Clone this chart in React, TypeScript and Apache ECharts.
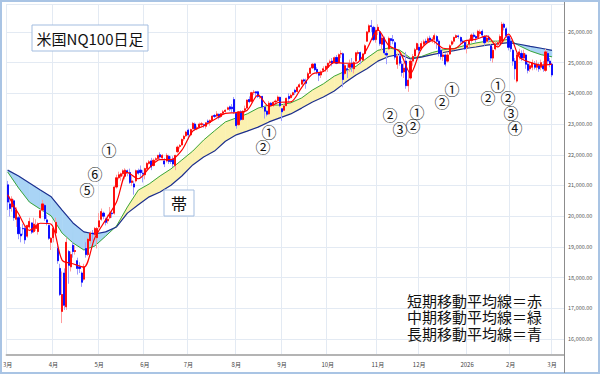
import React, { useEffect, useRef } from "react";
import * as echarts from "echarts";

// Trading days (category axis); the last five March 2026 days are empty slots.
const tradingDays: [string, number[]][] = [
  ["2025-03", [3, 4, 5, 6, 7, 10, 11, 12, 13, 14, 17, 18, 19, 20, 21, 24, 25, 26, 27, 28, 31]],
  ["2025-04", [1, 2, 3, 4, 7, 8, 9, 10, 11, 14, 15, 16, 17, 21, 22, 23, 24, 25, 28, 29, 30]],
  ["2025-05", [1, 2, 5, 6, 7, 8, 9, 12, 13, 14, 15, 16, 19, 20, 21, 22, 23, 27, 28, 29, 30]],
  ["2025-06", [2, 3, 4, 5, 6, 9, 10, 11, 12, 13, 16, 17, 18, 20, 23, 24, 25, 26, 27, 30]],
  ["2025-07", [1, 2, 3, 7, 8, 9, 10, 11, 14, 15, 16, 17, 18, 21, 22, 23, 24, 25, 28, 29, 30, 31]],
  ["2025-08", [1, 4, 5, 6, 7, 8, 11, 12, 13, 14, 15, 18, 19, 20, 21, 22, 25, 26, 27, 28, 29]],
  ["2025-09", [2, 3, 4, 5, 8, 9, 10, 11, 12, 15, 16, 17, 18, 19, 22, 23, 24, 25, 26, 29, 30]],
  ["2025-10", [1, 2, 3, 6, 7, 8, 9, 10, 13, 14, 15, 16, 17, 20, 21, 22, 23, 24, 27, 28, 29, 30, 31]],
  ["2025-11", [3, 4, 5, 6, 7, 10, 11, 12, 13, 14, 17, 18, 19, 20, 21, 24, 25, 26, 28]],
  ["2025-12", [1, 2, 3, 4, 5, 8, 9, 10, 11, 12, 15, 16, 17, 18, 19, 22, 23, 24, 26, 29, 30, 31]],
  ["2026-01", [2, 5, 6, 7, 8, 9, 12, 13, 14, 15, 16, 20, 21, 22, 23, 26, 27, 28, 29, 30]],
  ["2026-02", [2, 3, 4, 5, 6, 9, 10, 11, 12, 13, 17, 18, 19, 20, 23, 24, 25, 26, 27]],
  ["2026-03", [2, 3, 4, 5, 6, 9]],
];

// Daily candles: [open, close, low, high]
const ohlc: number[][] = [
  [21020, 20460, 20200, 21150], [20400, 20250, 19990, 20650], [20300, 20560, 20150, 20650], [20500, 19950, 19850, 20550],
  [19900, 20200, 19650, 20290], [19950, 19430, 19250, 20000], [19420, 19360, 19150, 19650], [19600, 19590, 19380, 19750],
  [19600, 19230, 19100, 19680], [19350, 19700, 19300, 19720], [19650, 19830, 19600, 19950], [19780, 19480, 19420, 19800],
  [19500, 19740, 19450, 19950], [19600, 19680, 19520, 19900], [19500, 19750, 19400, 19800], [19950, 20180, 19920, 20230],
  [20200, 20400, 20150, 20530], [20350, 19920, 19850, 20400], [19880, 19800, 19700, 20050], [19700, 19280, 19230, 19720],
  [19150, 19280, 18900, 19320],
  // April
  [19300, 19600, 19150, 19650], [19450, 19800, 19400, 19950], [18950, 18550, 18450, 19050], [18300, 17450, 17400, 18450],
  [16900, 17450, 16520, 18200], [18150, 17100, 16950, 18300], [17050, 19150, 16950, 19300], [18850, 18400, 17800, 18900],
  [18350, 18750, 18200, 18850], [19050, 18850, 18650, 19150], [18850, 18880, 18750, 19050], [18550, 18300, 18100, 18650],
  [18350, 18300, 18150, 18500], [18150, 17850, 17700, 18200], [17950, 18350, 17900, 18450], [18950, 18750, 18650, 19150],
  [18750, 19250, 18700, 19300], [19200, 19450, 19100, 19500], [19450, 19420, 19200, 19550], [19400, 19600, 19350, 19650],
  [19300, 19600, 18950, 19650],
  // May
  [19650, 19850, 19600, 20100], [19900, 20150, 19850, 20250], [20100, 20000, 19900, 20150], [19900, 19800, 19700, 19950],
  [19850, 19900, 19750, 20050], [19950, 20100, 19900, 20300], [20100, 20080, 19950, 20200], [20100, 20950, 20050, 21000],
  [20950, 21250, 20900, 21350], [21250, 21350, 21200, 21450], [21300, 21380, 21150, 21420], [21380, 21480, 21300, 21530],
  [21300, 21500, 21200, 21560], [21480, 21420, 21300, 21520], [21420, 21100, 21050, 21550], [21100, 21150, 20980, 21300],
  [21050, 20950, 20700, 21150], [21150, 21480, 21100, 21520], [21480, 21400, 21350, 21550], [21500, 21420, 21250, 21650],
  [21400, 21380, 21100, 21500],
  // June
  [21350, 21550, 21200, 21580], [21550, 21720, 21500, 21760], [21720, 21770, 21680, 21830], [21800, 21600, 21500, 21900],
  [21650, 21820, 21620, 21880], [21850, 21870, 21780, 21920], [21880, 21980, 21820, 22000], [22000, 21930, 21850, 22080],
  [21900, 21980, 21850, 22020], [21800, 21700, 21600, 21900], [21800, 21980, 21750, 22050], [21950, 21780, 21700, 22000],
  [21820, 21780, 21700, 21950], [21850, 21700, 21600, 21950], [21650, 21980, 21500, 22000], [22100, 22250, 22050, 22300],
  [22270, 22300, 22200, 22350], [22320, 22500, 22300, 22530], [22520, 22600, 22450, 22650], [22620, 22740, 22580, 22780],
  // July
  [22800, 22650, 22500, 22850], [22650, 22820, 22600, 22850], [22850, 23020, 22830, 23070], [23000, 22850, 22780, 23050],
  [22850, 22880, 22800, 22950], [22900, 23000, 22880, 23050], [22980, 23010, 22900, 23070], [22980, 22960, 22880, 23020],
  [22930, 23040, 22850, 23060], [23100, 23060, 23020, 23150], [23050, 23120, 22950, 23150], [23120, 23260, 23100, 23290],
  [23280, 23250, 23200, 23330], [23260, 23330, 23250, 23420], [23320, 23220, 23150, 23340], [23250, 23340, 23200, 23360],
  [23350, 23400, 23340, 23460], [23410, 23450, 23380, 23480], [23480, 23530, 23450, 23570], [23560, 23490, 23420, 23600],
  [23550, 23500, 23380, 23650], [23800, 23400, 23330, 23880],
  // August
  [23350, 22950, 22850, 23400], [22980, 23400, 22950, 23420], [23400, 23150, 23100, 23450], [23150, 23420, 23120, 23450],
  [23450, 23500, 23350, 23600], [23520, 23780, 23500, 23800], [23800, 23730, 23680, 23900], [23740, 24020, 23700, 24050],
  [24030, 24040, 23950, 24110], [24050, 24010, 23900, 24060], [24050, 23900, 23850, 24080], [23890, 23900, 23820, 23960],
  [23900, 23560, 23500, 23920], [23550, 23420, 23180, 23580], [23420, 23320, 23250, 23450], [23330, 23680, 23300, 23750],
  [23680, 23610, 23580, 23720], [23610, 23710, 23560, 23740], [23720, 23750, 23650, 23800], [23760, 23880, 23700, 23930],
  [23870, 23600, 23550, 23890],
  // September
  [23500, 23400, 23100, 23520], [23450, 23590, 23440, 23650], [23600, 23840, 23580, 23860], [23900, 23830, 23700, 24000],
  [23860, 23940, 23840, 23990], [23950, 24020, 23900, 24050], [24100, 24040, 23950, 24150], [24060, 24200, 24030, 24230],
  [24210, 24280, 24180, 24330], [24300, 24430, 24290, 24460], [24440, 24400, 24350, 24480], [24400, 24330, 24150, 24480],
  [24500, 24640, 24450, 24700], [24650, 24820, 24630, 24850], [24830, 24950, 24800, 24980], [24960, 24770, 24720, 24990],
  [24780, 24700, 24620, 24850], [24650, 24590, 24400, 24700], [24600, 24690, 24500, 24750], [24750, 24800, 24700, 24880],
  [24800, 24880, 24700, 24900],
  // October
  [24850, 24980, 24700, 25000], [25000, 25030, 24950, 25100], [25050, 24970, 24880, 25150], [25000, 25160, 24980, 25200],
  [25170, 24980, 24950, 25250], [25000, 25260, 24980, 25300], [25280, 25300, 25150, 25400], [25290, 24450, 24200, 25330],
  [24650, 24900, 24600, 24950], [24800, 24770, 24500, 24950], [24850, 24950, 24700, 25100], [24980, 24850, 24700, 25150],
  [24800, 25000, 24650, 25050], [25050, 25320, 25030, 25350], [25300, 25330, 25230, 25400], [25330, 25080, 24950, 25360],
  [25080, 25280, 25050, 25320], [25300, 25550, 25280, 25600], [25700, 26000, 25680, 26030], [26000, 26200, 25950, 26250],
  [26200, 26180, 26000, 26390], [26150, 25750, 25700, 26200], [25750, 26050, 25650, 26150],
  // November
  [26050, 26150, 25900, 26250], [26000, 25620, 25550, 26020], [25600, 25800, 25400, 25900], [25800, 25320, 25250, 25850],
  [25300, 25250, 24950, 25380], [25450, 25790, 25420, 25850], [25780, 25720, 25550, 25800], [25750, 25710, 25600, 25900],
  [25650, 25180, 25100, 25700], [24950, 25200, 24800, 25300], [25200, 24980, 24900, 25350], [24950, 24680, 24550, 25050],
  [24700, 24820, 24500, 25000], [25050, 24250, 24150, 25350], [24250, 24430, 24050, 24700], [24500, 25050, 24450, 25100],
  [25050, 25200, 24900, 25280], [25220, 25420, 25200, 25480], [25430, 25620, 25400, 25650],
  // December
  [25500, 25400, 25250, 25600], [25450, 25620, 25400, 25700], [25600, 25680, 25500, 25750], [25700, 25660, 25580, 25780],
  [25680, 25780, 25650, 25850], [25800, 25730, 25650, 25880], [25720, 25760, 25640, 25830], [25760, 25880, 25600, 25950],
  [25850, 25700, 25450, 25900], [25700, 25300, 25200, 25760], [25400, 25200, 25100, 25480], [25200, 25250, 25050, 25350],
  [25250, 24950, 24880, 25300], [25050, 25250, 25000, 25350], [25280, 25550, 25250, 25600], [25600, 25680, 25550, 25730],
  [25700, 25820, 25620, 25850], [25820, 25880, 25800, 25920], [25870, 25850, 25780, 25910], [25820, 25700, 25620, 25850],
  [25700, 25660, 25600, 25750], [25660, 25450, 25420, 25700],
  // January 2026
  [25500, 25550, 25300, 25750], [25600, 25720, 25500, 25800], [25720, 25900, 25650, 25950], [25900, 25850, 25780, 25980],
  [25850, 25800, 25650, 25900], [25820, 26020, 25800, 26070], [25950, 26000, 25850, 26080], [26020, 25900, 25800, 26080],
  [25850, 25650, 25550, 25900], [25700, 25800, 25650, 25880], [25820, 25750, 25650, 25900], [25550, 25150, 25050, 25600],
  [25150, 25400, 25000, 25500], [25450, 25600, 25400, 25700], [25600, 25650, 25500, 25700], [25650, 25850, 25600, 25920],
  [25700, 26250, 25650, 26330], [26250, 26150, 26050, 26300], [26100, 25880, 25800, 26150], [25850, 25500, 25400, 25900],
  // February 2026
  [25700, 25450, 25350, 25800], [25400, 25050, 24900, 25450], [25050, 24800, 24450, 25150], [24400, 25250, 24350, 25320],
  [25250, 25350, 25100, 25450], [25300, 25150, 25050, 25400], [25150, 25300, 25100, 25420], [25250, 24950, 24800, 25300],
  [24950, 24750, 24650, 25050], [24800, 24900, 24700, 25000], [24850, 25000, 24750, 25100], [24950, 24850, 24780, 25050],
  [24850, 24950, 24750, 25080], [24900, 24800, 24700, 25000], [24850, 25000, 24750, 25100], [24900, 24800, 24700, 25050],
  [24750, 25350, 24700, 25450], [25300, 25050, 24950, 25380], [25050, 24950, 24850, 25150],
  // March 2, 2026
  [24950, 24600, 24530, 25000],
];

// Moving averages read every 5th trading day (index 0, 5, 10, ...)
const MA_STEP = 5;
const shortMA = [
  20700, 20080, 19540, 19770, 19740, 18570, 18450, 18340, 19290, 19880, 20460, 21430, 21220, 21570, 21840, 21840, 22150,
  22770, 22940, 23150, 23350, 23370, 23450, 23940, 23580, 23710, 23720, 24190, 24630, 24710, 25000, 24980, 24980, 25450,
  26070, 25560, 25360, 24650, 25450, 25720, 25470, 25450, 25710, 25760, 25870, 25510, 25930, 25180, 25010, 24920, 24950,
];
const midMA = [
  21440, 20920, 20460, 20230, 20010, 19450, 19130, 18900, 19030, 19350, 19680, 20300, 20850, 21050, 21310, 21540, 21830,
  22120, 22480, 22780, 23070, 23200, 23330, 23520, 23620, 23620, 23690, 23850, 24110, 24310, 24560, 24720, 24880, 25150,
  25400, 25480, 25410, 25150, 25200, 25330, 25420, 25460, 25560, 25640, 25700, 25700, 25760, 25550, 25380, 25260, 25190,
];
const longMA = [
  21500, 21310, 21080, 20850, 20630, 20200, 19780, 19490, 19420, 19490, 19650, 20100, 20370, 20630, 20790, 21010, 21310,
  21670, 21930, 22120, 22440, 22650, 22770, 22900, 23070, 23200, 23330, 23520, 23720, 23880, 24080, 24350, 24600, 24800,
  25050, 25200, 25270, 25120, 25180, 25260, 25330, 25390, 25460, 25510, 25570, 25610, 25650, 25600, 25530, 25470, 25400,
];

const legendLines = ["短期移動平均線＝赤", "中期移動平均線＝緑", "長期移動平均線＝青"];
const titleText = "米国NQ100日足";
const bandText = "帯";

// Stage annotations (circled numbers) with their pixel positions
const stageMarks: [string, number, number][] = [
  ["①", 109, 149], ["⑥", 95, 173], ["⑤", 87, 189],
  ["①", 269, 131], ["②", 263, 146],
  ["②", 390, 114], ["③", 400, 128], ["①", 417, 111], ["②", 413, 125],
  ["②", 442, 101], ["①", 452, 88],
  ["②", 488, 97], ["①", 498, 84], ["②", 508, 97], ["③", 511, 112], ["④", 515, 127],
];

const FONT = "'Noto Sans CJK JP', 'Noto Sans', sans-serif";

const dates: string[] = tradingDays.flatMap(([ym, ds]) => ds.map((d) => `${ym}-${String(d).padStart(2, "0")}`));
const isMonthStart = (i: number) => i === 0 || dates[i].slice(0, 7) !== dates[i - 1].slice(0, 7);

export default function App() {
  const ref = useRef<HTMLDivElement>(null);

  useEffect(() => {
    if (!ref.current) return;
    const chart = echarts.init(ref.current, null, { renderer: "svg" });

    const YELLOW = "#fbf1b0";
    const SKY = "#a9d4f5";
    const bandData = midMA.slice(0, -1).map((g, k) => [
      k * MA_STEP, g, longMA[k], (k + 1) * MA_STEP, midMA[k + 1], longMA[k + 1],
    ]);
    const maLine = (arr: number[]) => arr.map((v, k) => [k * MA_STEP, v]);

    const graphics: any[] = [
      {
        type: "rect", shape: { x: 1, y: 1, width: 598, height: 372 }, z: 100,
        style: { fill: "none", stroke: "#a9c4e4", lineWidth: 2 }, silent: true,
      },
      {
        type: "line", shape: { x1: 564.5, y1: 2, x2: 564.5, y2: 373 }, z: 100,
        style: { stroke: "#8c8c8c", lineWidth: 1 }, silent: true,
      },
      {
        type: "rect", shape: { x: 32, y: 25, width: 116, height: 26 }, z: 100,
        style: { fill: "#fff", stroke: "#a3bde0", lineWidth: 1 },
      },
      {
        type: "text", x: 90, y: 38, z: 101,
        style: { text: titleText, fontSize: 15, fontFamily: FONT, fill: "#111", align: "center", verticalAlign: "middle" },
      },
      {
        type: "rect", shape: { x: 164, y: 190, width: 30, height: 26 }, z: 100,
        style: { fill: "#fff", stroke: "#a3bde0", lineWidth: 1 },
      },
      {
        type: "text", x: 179, y: 203, z: 101,
        style: { text: bandText, fontSize: 16, fontFamily: FONT, fill: "#111", align: "center", verticalAlign: "middle" },
      },
      {
        type: "text", x: 407, y: 292, z: 101,
        style: {
          text: legendLines.join("\n"), fontSize: 15, lineHeight: 16.5, fontFamily: FONT, fill: "#111",
          align: "left", verticalAlign: "top",
        },
      },
      ...stageMarks.map(([t, x, y]) => ({
        type: "text", x, y, z: 101,
        style: {
          text: t, fontSize: 15, lineHeight: 13, fontFamily: FONT, fill: "#111", align: "center", verticalAlign: "middle",
        },
      })),
    ];

    chart.setOption({
      animation: false,
      backgroundColor: "#fff",
      textStyle: { fontFamily: FONT },
      grid: { left: 3, right: 36, top: 4, bottom: 19 },
      xAxis: {
        type: "category",
        data: dates,
        boundaryGap: true,
        axisLine: { lineStyle: { color: "#b4b4b4", width: 2 } },
        axisTick: { show: false },
        axisLabel: {
          interval: (i: number) => isMonthStart(i),
          formatter: (v: string) => {
            const [y, m] = v.split("-");
            return m === "01" ? y : `${Number(m)}月`;
          },
          fontSize: 6,
          color: "#444",
          margin: 6,
        },
        splitLine: {
          show: true,
          interval: (i: number) => isMonthStart(i),
          lineStyle: { color: "#e3eaf3", width: 1 },
        },
      },
      yAxis: {
        type: "value",
        position: "right",
        min: 15480,
        max: 26910,
        minInterval: 1000,
        maxInterval: 1000,
        splitNumber: 11,
        scale: true,
        axisLine: { show: false },
        axisTick: { show: false },
        axisLabel: {
          fontSize: 5.5,
          color: "#555",
          margin: 4,
          formatter: (v: number) =>
            v % 1000 === 0 ? v.toLocaleString("en-US", { minimumFractionDigits: 2, maximumFractionDigits: 2 }) : "",
        },
        splitLine: { lineStyle: { color: "#e3eaf3", width: 1 } },
      },
      series: [
        {
          type: "custom",
          silent: true,
          z: 1,
          data: bandData,
          encode: { x: [0, 3], y: [1, 2, 4, 5] },
          renderItem: (_p: any, api: any) => {
            const x0 = api.value(0), g0 = api.value(1), b0 = api.value(2);
            const x1 = api.value(3), g1 = api.value(4), b1 = api.value(5);
            const d0 = g0 - b0, d1 = g1 - b1;
            const col = (d: number) => (d >= 0 ? YELLOW : SKY);
            const P = (x: number, y: number) => api.coord([x, y]);
            const children: any[] = [];
            if (d0 * d1 < 0) {
              const t = d0 / (d0 - d1);
              const xc = x0 + t * (x1 - x0);
              const yc = g0 + t * (g1 - g0);
              children.push({ type: "polygon", shape: { points: [P(x0, g0), P(xc, yc), P(x0, b0)] }, style: { fill: col(d0), stroke: col(d0), lineWidth: 0.5 } });
              children.push({ type: "polygon", shape: { points: [P(xc, yc), P(x1, g1), P(x1, b1)] }, style: { fill: col(d1), stroke: col(d1), lineWidth: 0.5 } });
            } else {
              const c = col(d0 + d1);
              children.push({ type: "polygon", shape: { points: [P(x0, g0), P(x1, g1), P(x1, b1), P(x0, b0)] }, style: { fill: c, stroke: c, lineWidth: 0.5 } });
            }
            return { type: "group", children };
          },
        },
        {
          name: "中期", type: "line", z: 2, data: maLine(midMA), symbol: "none", silent: true,
          lineStyle: { color: "#3aa53a", width: 1 },
        },
        {
          name: "長期", type: "line", z: 2, data: maLine(longMA), symbol: "none", silent: true,
          lineStyle: { color: "#1c2f8f", width: 1.2 },
        },
        {
          name: "wick", type: "candlestick", z: 3, data: ohlc, barWidth: 1.6, clip: false, silent: true,
          itemStyle: { color: "#ff9c9c", color0: "#9c9cff", borderColor: "#ff9c9c", borderColor0: "#9c9cff", borderWidth: 1 },
        },
        {
          name: "body", type: "candlestick", z: 4, clip: false, silent: true, barWidth: 1.6,
          data: ohlc.map(([o, c]) => [o, c, Math.min(o, c), Math.max(o, c)]),
          itemStyle: { color: "#ff0000", color0: "#0000ff", borderColor: "#ff0000", borderColor0: "#0000ff", borderWidth: 0.8 },
        },
        {
          name: "短期", type: "line", z: 5, data: maLine(shortMA), symbol: "none", smooth: 0.3, silent: true,
          lineStyle: { color: "#ff0000", width: 1.2 },
        },
      ],
      graphic: graphics,
    });

    return () => chart.dispose();
  }, []);

  return (
    <div
      ref={ref}
      style={{ position: "fixed", left: 0, top: 0, width: 600, height: 374, background: "#fff" }}
    />
  );
}
